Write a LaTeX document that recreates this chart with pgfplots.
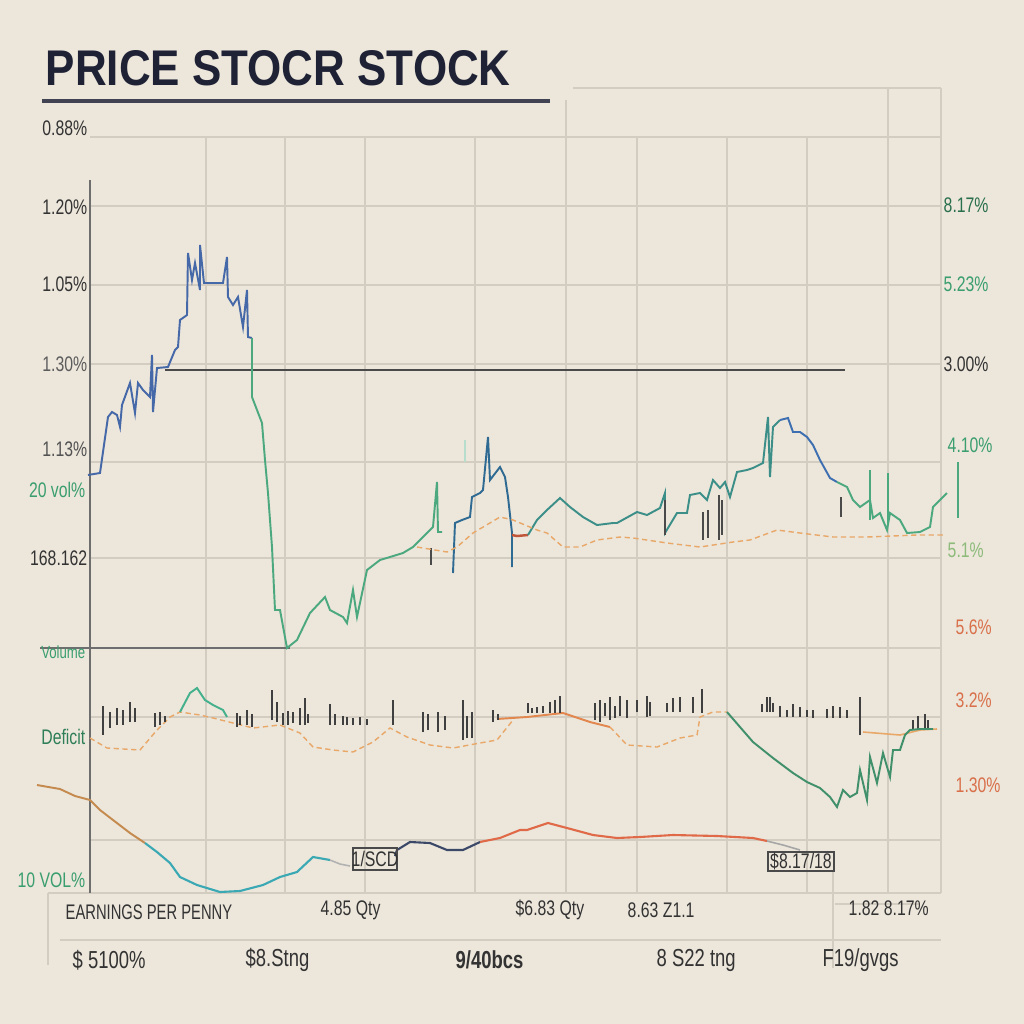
\documentclass[border=0pt]{standalone}
\usepackage{pgfplots}
\pgfplotsset{compat=1.18}
\usepackage{graphicx}
\usepackage{fontspec}
\setmainfont{Liberation Sans}
\definecolor{bg}{HTML}{ECE6DB}
\definecolor{gridc}{HTML}{D3CCC1}
\definecolor{titlec}{HTML}{1F2235}
\definecolor{axc}{HTML}{6E6E6E}
\definecolor{darkl}{HTML}{4A4A4A}
\definecolor{cblue}{HTML}{4568A8}
\definecolor{cgreen}{HTML}{4CA97F}
\definecolor{cteal}{HTML}{2F6A93}
\definecolor{ctealg}{HTML}{3C8F88}
\definecolor{cblue2}{HTML}{3E6FB0}
\definecolor{cred}{HTML}{C0553A}
\definecolor{corange}{HTML}{E9A868}
\definecolor{corange2}{HTML}{E2874E}
\definecolor{cred2}{HTML}{E06A48}
\definecolor{cnavy}{HTML}{3B4868}
\definecolor{cteal2}{HTML}{3AA9B4}
\definecolor{cbrown}{HTML}{C48A4E}
\definecolor{lgreen}{HTML}{3A9E6E}
\definecolor{lorange}{HTML}{D9704A}
\definecolor{lpale}{HTML}{8DBB7A}
\definecolor{ltext}{HTML}{333333}
\newcommand{\lab}[1]{\scalebox{0.75}[1]{#1}}
\begin{document}
\begin{tikzpicture}
\fill[bg] (0,0) rectangle (10.24,10.24);
\begin{axis}[at={(0,0)}, anchor=south west, width=10.24cm, height=10.24cm,
  scale only axis, xmin=0, xmax=1024, ymin=0, ymax=1024, y dir=reverse,
  hide axis, clip=false, unbounded coords=jump]
% grid
\foreach \xx in {206,285,365,475,637,727,807} {
  \edef\tmp{\noexpand\draw[gridc, line width=0.4pt] (axis cs:\xx,137) -- (axis cs:\xx,893);}\tmp }
\draw[gridc, line width=0.4pt] (axis cs:566,100) -- (axis cs:566,893);
\draw[gridc, line width=0.4pt] (axis cs:888,88) -- (axis cs:888,893);
\draw[gridc, line width=0.4pt] (axis cs:941,88) -- (axis cs:941,893);
\draw[gridc, line width=0.4pt] (axis cs:573,88) -- (axis cs:941,88);
\foreach \yy in {137,206,285,364,462,558,648,717,840} {
  \edef\tmp{\noexpand\draw[gridc, line width=0.4pt] (axis cs:90,\yy) -- (axis cs:941,\yy);}\tmp }
\draw[gridc, line width=0.4pt] (axis cs:48,893) -- (axis cs:941,893);
\draw[gridc, line width=0.4pt] (axis cs:60,940) -- (axis cs:941,940);
\draw[gridc, line width=0.4pt] (axis cs:48,893) -- (axis cs:48,965);
\draw[gridc, line width=0.4pt] (axis cs:833,870) -- (axis cs:833,968);
\draw[gridc, line width=0.4pt] (axis cs:835,904) -- (axis cs:920,904);
\draw[axc, line width=0.5pt] (axis cs:90,180) -- (axis cs:90,893);
\draw[axc, line width=0.5pt] (axis cs:40,648) -- (axis cs:290,648);
\draw[darkl, line width=0.5pt] (axis cs:165,370) -- (axis cs:845,370);
% title
\node[anchor=base west, inner sep=0pt, text=titlec] at (axis cs:45,85) {\resizebox{4.65cm}{0.35cm}{\bfseries PRICE STOCR STOCK}};
\draw[titlec!85, line width=1.1pt] (axis cs:42,101) -- (axis cs:550,101);
% main price line
\addplot[cblue, line width=0.55pt] coordinates {(88,475)(100,473)(108,417)(112,412)(117,415)(120,427)(122,405)(130,383)(135,413)(138,383)(143,390)(150,397)(152,355)(153,412)(157,368)(168,367)(175,350)(178,347)(180,320)(187,315)(188,253)(192,280)(195,263)(200,290)(200,245)(204,283)(223,283)(227,257)(228,297)(233,305)(238,297)(243,327)(247,290)(248,337)(252,338)};
\addplot[cgreen, line width=0.55pt] coordinates {(252,338)(252,397)(262,423)(265,460)(268,493)(272,547)(275,610)(280,610)(287,648)(297,640)(310,613)(325,597)(330,610)(343,617)(347,623)(353,590)(357,617)(367,570)(380,560)(390,557)(403,553)(413,547)(423,537)(433,527)(437,482)(438,532)(442,532)};
\addplot[cteal, line width=0.55pt] coordinates {(453,573)(455,523)(462,520)(470,517)(472,497)(480,493)(483,490)(488,437)(490,480)(500,467)(505,477)(508,497)(512,533)(512,567)(512,535)};
\addplot[cred, line width=0.7pt] coordinates {(512,535)(517,536)(528,535)};
\addplot[ctealg, line width=0.55pt] coordinates {(528,535)(537,520)(547,510)(560,498)(570,507)(583,517)(597,525)(613,523)(617,523)(637,512)(647,515)(660,508)(665,493)(665,533)(677,513)(687,513)(690,495)(700,493)(707,500)(713,480)(720,488)(725,482)(730,497)(737,472)(747,470)(753,468)(763,463)(768,417)(770,477)(773,427)(780,420)};
\addplot[cblue2, line width=0.55pt] coordinates {(780,420)(788,418)(793,432)(800,432)(807,437)(813,445)(820,460)(830,478)(837,482)};
\addplot[cgreen, line width=0.55pt] coordinates {(837,482)(847,487)(853,500)(860,507)(870,500)(873,518)(880,513)(887,530)(890,513)(900,520)(907,533)(920,532)(930,527)(933,507)(943,497)(947,493)};
\addplot[cgreen, line width=0.6pt] coordinates {(958,462)(958,518) (nan,nan) (870,470)(870,520) (nan,nan) (888,473)(888,525)};
\addplot[cgreen!40, line width=0.6pt] coordinates {(465,440)(465,462)};
\addplot[darkl, line width=0.45pt] coordinates {(703,512)(703,540) (nan,nan) (708,510)(708,538) (nan,nan) (719,495)(719,540) (nan,nan) (722,500)(722,535) (nan,nan) (841,497)(841,517) (nan,nan) (431,548)(431,565) (nan,nan) (665,500)(665,535)};
% upper orange dashed
\addplot[corange, line width=0.4pt, dash pattern=on 1.5pt off 1pt] coordinates {(417,547)(447,552)(457,547)(473,533)(500,517)(513,520)(537,530)(547,533)(563,547)(580,547)(597,540)(620,537)(633,538)(667,543)(700,547)(733,542)(750,540)(777,530)(800,533)(833,537)(867,537)(917,535)(943,535)};
% middle band: orange dashed
\addplot[corange, line width=0.4pt, dash pattern=on 1.5pt off 1pt] coordinates {(90,738)(107,748)(140,750)(157,730)(170,717)(180,712)(200,715)(213,718)(233,723)(253,728)(280,725)(300,733)(313,747)(333,750)(353,752)(373,742)(390,728)(407,737)(430,745)(453,748)(480,743)(497,740)(513,720)};
\addplot[corange2, line width=0.55pt] coordinates {(497,719)(527,717)(563,713)(590,722)(610,727)};
\addplot[corange, line width=0.4pt, dash pattern=on 1.5pt off 1pt] coordinates {(610,727)(627,745)(657,747)(680,738)(697,735)(700,717)(713,712)(727,712)};
\addplot[corange, line width=0.45pt] coordinates {(863,732)(900,735)(920,730)(937,729)};
% green bump
\addplot[cgreen!90!cyan, line width=0.55pt] coordinates {(180,712)(190,693)(197,688)(205,700)(213,705)(223,710)(227,717)};
% volume spikes
\addplot[black!75, line width=0.35pt] coordinates {
(103,735)(103,706) (nan,nan) (110,728)(110,712) (nan,nan) (117,725)(117,708) (nan,nan) (123,725)(123,710) (nan,nan) (130,722)(130,702) (nan,nan) (135,722)(135,708) (nan,nan)
(155,727)(155,713) (nan,nan) (160,725)(160,712) (nan,nan) (165,722)(165,716) (nan,nan)
(237,727)(237,713) (nan,nan) (240,725)(240,716) (nan,nan) (247,725)(247,710) (nan,nan) (252,727)(252,714) (nan,nan)
(272,720)(272,690) (nan,nan) (277,722)(277,702) (nan,nan) (283,725)(283,713) (nan,nan) (288,725)(288,711) (nan,nan) (293,723)(293,712) (nan,nan) (300,725)(300,708) (nan,nan) (305,725)(305,698) (nan,nan) (308,723)(308,714) (nan,nan)
(330,725)(330,704) (nan,nan) (335,725)(335,714) (nan,nan) (343,725)(343,716) (nan,nan) (347,725)(347,717) (nan,nan) (353,725)(353,718) (nan,nan) (360,725)(360,717) (nan,nan) (367,725)(367,719) (nan,nan)
(393,725)(393,700) (nan,nan) (423,732)(423,712) (nan,nan) (428,730)(428,714) (nan,nan) (438,732)(438,712) (nan,nan) (445,730)(445,716) (nan,nan)
(463,740)(463,700) (nan,nan) (467,738)(467,716) (nan,nan) (472,738)(472,712) (nan,nan) (493,722)(493,710) (nan,nan) (498,720)(498,714) (nan,nan)
(528,713)(528,703) (nan,nan) (532,713)(532,708) (nan,nan) (537,713)(537,707) (nan,nan) (543,713)(543,706) (nan,nan) (550,713)(550,702) (nan,nan) (555,713)(555,700) (nan,nan) (560,713)(560,696) (nan,nan)
(595,720)(595,703) (nan,nan) (600,722)(600,700) (nan,nan) (605,716)(605,703) (nan,nan) (610,720)(610,697) (nan,nan) (615,718)(615,706) (nan,nan) (620,716)(620,696) (nan,nan) (627,718)(627,700) (nan,nan)
(637,712)(637,700) (nan,nan) (647,717)(647,696) (nan,nan) (650,716)(650,702) (nan,nan) (667,712)(667,703) (nan,nan) (673,712)(673,698) (nan,nan) (680,712)(680,697) (nan,nan) (693,713)(693,697) (nan,nan) (702,713)(702,689) (nan,nan)
(762,712)(762,704) (nan,nan) (767,712)(767,697) (nan,nan) (770,712)(770,697) (nan,nan) (773,712)(773,703) (nan,nan) (780,717)(780,706) (nan,nan) (787,717)(787,710) (nan,nan) (793,717)(793,704) (nan,nan) (800,717)(800,707) (nan,nan) (807,717)(807,710) (nan,nan)
(813,718)(813,710) (nan,nan) (827,718)(827,709) (nan,nan) (833,718)(833,706) (nan,nan) (840,718)(840,707) (nan,nan) (847,718)(847,710) (nan,nan) (860,735)(860,697) (nan,nan)
(913,730)(913,720) (nan,nan) (918,730)(918,716) (nan,nan) (925,730)(925,714) (nan,nan) (928,730)(928,720)};
% green descent
\addplot[cgreen!85!black, line width=0.55pt] coordinates {(727,712)(740,727)(753,742)(773,758)(793,773)(807,782)(820,788)(830,797)(837,807)(843,790)(850,797)(857,793)(860,770)(867,800)(870,757)(877,783)(883,753)(890,777)(893,750)(900,750)(905,735)(910,730)(920,729)(933,729)};
% bottom line
\addplot[cbrown, line width=0.55pt] coordinates {(37,785)(60,789)(75,796)(90,800)(100,810)(113,820)(130,833)(145,843)};
\addplot[cteal2, line width=0.6pt] coordinates {(145,843)(157,852)(170,863)(180,877)(197,885)(220,892)(240,891)(263,885)(280,877)(297,872)(313,857)(330,860)};
\addplot[gray!60, line width=0.45pt] coordinates {(330,860)(340,864)(350,866)};
\addplot[cnavy, line width=0.6pt] coordinates {(395,856)(397,850)(410,842)(430,843)(447,850)(463,850)(480,842)};
\addplot[cred2, line width=0.6pt] coordinates {(480,842)(500,838)(520,830)(527,830)(548,823)(567,828)(593,835)(617,838)(640,837)(673,835)(717,836)(753,838)(767,841)};
\addplot[gray!70, line width=0.45pt] coordinates {(767,841)(783,845)(800,850)};
% boxes
\draw[darkl, line width=0.45pt] (axis cs:353,848) rectangle (axis cs:397,870);
\node[text=ltext, font=\fontsize{6}{7}\selectfont] at (axis cs:375,859) {\lab{1/SCD}};
\draw[darkl, line width=0.45pt] (axis cs:768,852) rectangle (axis cs:834,871);
\node[text=ltext, font=\fontsize{6}{7}\selectfont] at (axis cs:801,861) {\lab{\$8.17/18}};
% left labels
\begin{scope}[every node/.style={anchor=east, font=\fontsize{6}{7}\selectfont, inner sep=0pt}]
\node[text=ltext] at (axis cs:88,128) {\lab{0.88\%}};
\node[text=ltext] at (axis cs:88,207) {\lab{1.20\%}};
\node[text=ltext] at (axis cs:88,284) {\lab{1.05\%}};
\node[text=ltext!80] at (axis cs:88,364) {\lab{1.30\%}};
\node[text=ltext!85] at (axis cs:88,449) {\lab{1.13\%}};
\node[text=lgreen] at (axis cs:86,490) {\lab{20 vol\%}};
\node[text=ltext] at (axis cs:88,558) {\lab{168.162}};
\node[text=lgreen, font=\fontsize{5}{6}\selectfont] at (axis cs:86,652) {\lab{Volume}};
\node[text=lgreen!80!black] at (axis cs:86,737) {\lab{Deficit}};
\node[text=lgreen] at (axis cs:86,880) {\lab{10 VOL\%}};
\end{scope}
% right labels
\begin{scope}[every node/.style={anchor=west, font=\fontsize{6}{7}\selectfont, inner sep=0pt}]
\node[text=lgreen!70!black] at (axis cs:943,205) {\lab{8.17\%}};
\node[text=lgreen] at (axis cs:943,284) {\lab{5.23\%}};
\node[text=ltext] at (axis cs:943,364) {\lab{3.00\%}};
\node[text=lgreen] at (axis cs:947,445) {\lab{4.10\%}};
\node[text=lpale] at (axis cs:947,550) {\lab{5.1\%}};
\node[text=lorange] at (axis cs:955,627) {\lab{5.6\%}};
\node[text=lorange] at (axis cs:955,700) {\lab{3.2\%}};
\node[text=lorange] at (axis cs:955,785) {\lab{1.30\%}};
\end{scope}
% bottom rows
\begin{scope}[every node/.style={anchor=west, font=\fontsize{6}{7}\selectfont, inner sep=0pt, text=ltext}]
\node at (axis cs:65,912) {\scalebox{0.7}[1]{EARNINGS PER PENNY}};
\node at (axis cs:320,910) {\lab{4.85 Qty}};
\node at (axis cs:515,910) {\lab{\$6.83 Qty}};
\node at (axis cs:627,910) {\lab{8.63 Z1.1}};
\node at (axis cs:848,908) {\lab{1.82 8.17\%}};
\end{scope}
\begin{scope}[every node/.style={anchor=west, font=\fontsize{7}{8}\selectfont, inner sep=0pt, text=ltext}]
\node at (axis cs:72,960) {\lab{\$ 5100\%}};
\node at (axis cs:245,960) {\lab{\$8.Stng}};
\node at (axis cs:455,960) {\lab{\bfseries 9/40bcs}};
\node at (axis cs:656,960) {\lab{8 S22 tng}};
\node at (axis cs:822,960) {\lab{F19/gvgs}};
\end{scope}
\end{axis}
\end{tikzpicture}
\end{document}
